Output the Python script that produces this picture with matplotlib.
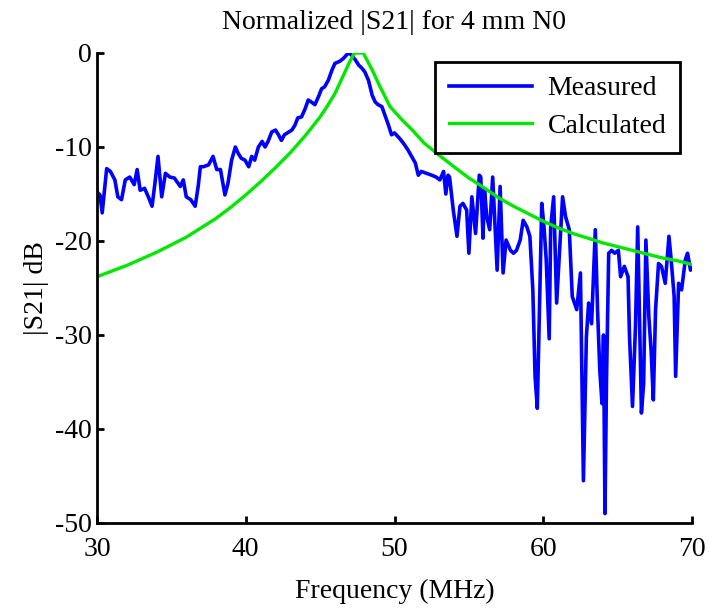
import matplotlib
matplotlib.use("Agg")
import matplotlib.pyplot as plt

# Measured |S21| (dB) vs frequency (MHz)
meas_f = [30.0, 30.2, 30.35, 30.65, 30.9, 31.2, 31.4, 31.65, 31.9, 32.2, 32.5, 32.7, 32.9,
          33.2, 33.45, 33.7, 33.9, 34.1, 34.35, 34.6, 34.9, 35.2, 35.6, 35.8, 36.0, 36.3,
          36.6, 36.8, 36.95, 37.15, 37.5, 37.8, 38.05, 38.3, 38.5, 38.6, 38.8, 39.05, 39.3,
          39.5, 39.7, 39.95, 40.2, 40.4, 40.6, 40.85, 41.1, 41.3, 41.5, 41.75, 42.0, 42.2,
          42.4, 42.6, 42.9, 43.1, 43.3, 43.5, 43.75, 44.0, 44.2, 44.4, 44.65, 44.9, 45.1,
          45.3, 45.55, 45.8, 46.0, 46.3, 46.55, 46.9, 47.1, 47.35, 47.6, 47.8, 48.0, 48.25,
          48.5, 48.7, 48.9, 49.15, 49.4, 49.6, 49.8, 50.0, 50.35, 50.6, 50.9, 51.15, 51.4,
          51.6, 51.8, 52.15, 52.5, 52.8, 53.05, 53.3, 53.45, 53.6, 53.7, 53.95, 54.2, 54.4,
          54.6, 54.85, 55.0, 55.2, 55.45, 55.7, 55.8, 55.95, 56.05, 56.2, 56.4, 56.6, 56.9,
          57.1, 57.3, 57.5, 57.8, 58.0, 58.2, 58.45, 58.65, 58.9, 59.1, 59.3, 59.45, 59.6,
          59.7, 59.9, 60.05, 60.2, 60.4, 60.5, 60.7, 60.9, 61.1, 61.3, 61.5, 61.75, 61.95,
          62.25, 62.5, 62.6, 62.7, 62.9, 63.05, 63.25, 63.5, 63.65, 63.8, 63.95, 64.05,
          64.15, 64.25, 64.4, 64.6, 64.8, 65.05, 65.2, 65.45, 65.7, 65.8, 66.0, 66.2, 66.35,
          66.5, 66.6, 66.75, 66.9, 67.1, 67.25, 67.4, 67.55, 67.75, 67.95, 68.2, 68.45,
          68.6, 68.8, 68.9, 69.1, 69.3, 69.55, 69.7, 69.9, 70.0]
meas_db = [-14.8, -15.1, -17.0, -12.3, -12.6, -13.5, -15.3, -15.6, -13.5, -13.2, -14.0, -12.4, -14.6,
           -14.4, -15.3, -16.3, -13.8, -11.0, -15.3, -12.8, -13.2, -13.3, -14.2, -13.5, -15.3, -15.6,
           -16.3, -14.2, -12.1, -12.1, -11.9, -11.0, -12.4, -12.4, -14.2, -15.1, -13.9, -11.4, -10.0,
           -10.7, -11.2, -11.4, -12.1, -11.0, -11.4, -10.0, -9.4, -10.0, -9.4, -8.4, -8.2, -8.7,
           -9.3, -8.7, -8.4, -8.2, -7.7, -6.9, -6.8, -5.9, -5.0, -5.2, -5.5, -4.6, -3.8,
           -3.6, -2.9, -1.8, -1.1, -0.9, -0.6, 0.0, -0.2, -0.7, -1.3, -1.6, -2.0, -2.9,
           -4.5, -5.2, -5.5, -5.7, -6.8, -7.7, -8.7, -8.5, -9.1, -9.6, -10.3, -11.0, -11.7,
           -13.0, -12.6, -12.8, -13.0, -13.2, -13.5, -12.6, -15.0, -13.0, -13.2, -16.7, -19.5, -16.3,
           -16.0, -16.7, -21.3, -15.3, -19.2, -13.0, -13.2, -19.7, -14.5, -17.4, -18.8, -13.2, -23.1,
           -14.2, -23.4, -19.9, -21.0, -21.3, -21.0, -19.9, -17.8, -18.5, -19.5, -25.2, -34.4, -37.8,
           -30.5, -16.0, -18.5, -22.0, -30.4, -18.5, -15.3, -26.6, -21.0, -15.3, -17.4, -18.8, -25.9,
           -27.3, -23.4, -34.8, -45.5, -30.2, -26.6, -28.8, -18.8, -27.3, -33.7, -37.3, -30.0,
           -49.0, -35.1, -21.3, -21.0, -21.3, -21.0, -23.8, -22.7, -23.8, -30.2, -37.6, -29.1, -18.5,
           -30.2, -38.3, -35.1, -19.9, -28.1, -31.6, -36.9, -27.3, -22.4, -22.7, -24.5, -19.5,
           -22.0, -25.9, -34.4, -24.5, -25.2, -22.0, -21.3, -23.1, -22.8]

# Calculated |S21| (dB)
calc_f = [30, 31, 32, 33, 34, 35, 36, 37, 38, 39, 40, 41, 42, 43, 44, 45, 45.5, 46, 46.5,
          47.0, 47.3, 47.9, 48.5, 49, 49.7, 50.5, 51.2, 52, 53.1, 54, 55, 55.7, 57, 58, 59,
          60, 61, 62, 63, 64, 65, 66, 67, 68, 69, 70]
calc_db = [-23.8, -23.2, -22.6, -21.9, -21.2, -20.4, -19.6, -18.6, -17.6, -16.4, -15.1, -13.7,
           -12.2, -10.6, -8.8, -6.8, -5.6, -4.3, -2.6, -0.9, 0.0, 0.0, -1.8, -3.5, -5.7, -7.1,
           -8.2, -9.6, -11.0, -12.1, -13.3, -14.0, -15.4, -16.3, -17.1, -17.9, -18.6, -19.2,
           -19.7, -20.2, -20.6, -21.0, -21.4, -21.8, -22.1, -22.5]

x_ticks = [30, 40, 50, 60, 70]
y_ticks = [-50, -40, -30, -20, -10, 0]

plt.rcParams['font.family'] = ['Liberation Serif', 'DejaVu Serif']
plt.rcParams['axes.unicode_minus'] = False
FS = 20

fig = plt.figure(figsize=(7.09, 6.11), dpi=100)
ax = fig.add_axes([97 / 709, 1 - 523 / 611, 595 / 709, 470 / 611])

ax.plot(meas_f, meas_db, color='#0000ff', lw=2.6, label='Measured')
ax.plot(calc_f, calc_db, color='#00e800', lw=2.4, label='Calculated')

ax.set_xlim(30, 70)
ax.set_ylim(-50, 0)
ax.set_xticks(x_ticks)
ax.set_yticks(y_ticks)
ax.tick_params(direction='in', length=5, width=2, labelsize=FS)
ax.tick_params(axis='x', pad=10)
ax.tick_params(axis='y', pad=4)
for s in ['top', 'right']:
    ax.spines[s].set_visible(False)
for s in ['left', 'bottom']:
    ax.spines[s].set_linewidth(2)

ax.set_title('Normalized |S21| for 4 mm N0', fontsize=FS, pad=17)
ax.set_xlabel('Frequency (MHz)', fontsize=FS, labelpad=12)
ax.set_ylabel('|S21| dB', fontsize=FS, labelpad=4)

leg = ax.legend(loc='upper right', bbox_to_anchor=(0.98, 0.981), borderaxespad=0,
                fontsize=FS, fancybox=False, framealpha=1, edgecolor='black',
                handlelength=3.0, handletextpad=0.55, labelspacing=0.45, borderpad=0.5)
leg.get_frame().set_linewidth(2)

fig.savefig('out.png', dpi=100)
